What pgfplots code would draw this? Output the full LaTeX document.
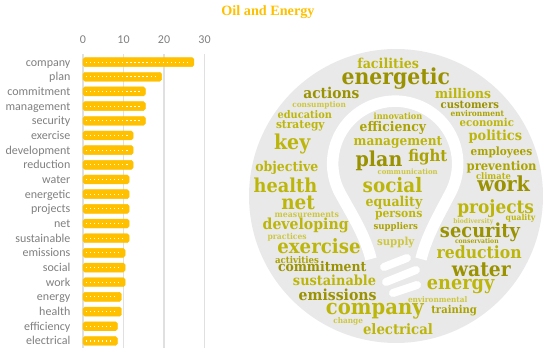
\documentclass[border=0pt]{standalone}
\usepackage{pgfplots}
\usepackage{pgfplotstable}
\usepackage{fontspec}
\pgfplotsset{compat=1.18}
\setmainfont{Carlito}
\newfontfamily\wf{DejaVu Serif}
\newfontfamily\tf{Liberation Serif}
\definecolor{wa}{HTML}{9A9200}
\definecolor{wb}{HTML}{ABA300}
\definecolor{wc}{HTML}{BDB60A}
\definecolor{wd}{HTML}{CDC740}
\definecolor{bar}{HTML}{FFC000}
\definecolor{disc}{HTML}{E9E9E9}
\definecolor{lab}{HTML}{7F7F7F}
\pgfplotstableread{
idx val dots
0 27.4 26.4
1 19.4 18.4
2 15.4 14.4
3 15.4 14.4
4 15.4 14.4
5 12.4 11.4
6 12.4 11.4
7 12.4 11.4
8 11.4 10.4
9 11.4 10.4
10 11.4 10.4
11 11.4 10.4
12 11.4 10.4
13 10.4 9.4
14 10.4 9.4
15 10.4 9.4
16 9.5 8.5
17 9.5 8.5
18 8.5 7.5
19 8.5 7.5
}\freq
\newcommand{\w}[6]{%
  \pgfmathsetmacro{\wcx}{240+(#2+#3)/6}%
  \pgfmathsetmacro{\wcy}{#1+#4/3}%
  \pgfmathsetmacro{\wwd}{(#3-#2)/3}%
  \node[anchor=base,inner sep=0pt,text=#5] at (\wcx,\wcy) {\resizebox{\wwd pt}{!}{\scalebox{1}[1.08]{\wf\bfseries #6}}};}
\begin{document}
\begin{tikzpicture}[x=1pt,y=1pt]
\path[use as bounding box] (0,0) rectangle (550,356);
\begin{scope}[y=-1pt,yshift=356pt]
\fill[disc] (396,196) circle[radius=147];
\draw[white,line width=11.5pt] (371,259) .. controls (365,235) and (352,215) .. (340,193)
  arc[start angle=152,end angle=388,radius=62.5]
  .. controls (439,215) and (427,235) .. (421,259);
\draw[white,line width=8pt,line cap=round] (384,267)--(407,258);
\draw[white,line width=8pt,line cap=round] (386,282)--(416,270);
\draw[white,line width=8pt,line cap=round] (393,293)--(417,285);
\node[anchor=base,text=bar,font=\tf\bfseries\fontsize{14.2}{16}\selectfont] at (268,16) {Oil and Energy};
% top half
\w{30}{352}{537}{115}{wc}{facilities}
\w{30}{305}{630}{165}{wa}{energetic}
\w{30}{190}{358}{207}{wa}{actions}
\w{30}{585}{753}{205}{wc}{millions}
\w{30}{157}{318}{232}{wd}{consumption}
\w{30}{602}{777}{236}{wa}{customers}
\w{30}{632}{792}{259}{wb}{environment}
\w{30}{113}{276}{267}{wc}{education}
\w{30}{401}{547}{270}{wc}{innovation}
\w{30}{108}{254}{297}{wc}{strategy}
\w{30}{659}{822}{289}{wc}{economic}
\w{30}{359}{558}{306}{wb}{efficiency}
\w{30}{686}{846}{333}{wc}{politics}
\w{30}{341}{607}{347}{wc}{management}
\w{30}{102}{211}{360}{wc}{key}
\w{30}{505}{622}{395}{wb}{fight}
\w{30}{347}{487}{410}{wa}{plan}
\w{30}{692}{877}{377}{wb}{employees}
\w{30}{46}{235}{425}{wc}{objective}
\w{30}{680}{890}{422}{wb}{prevention}
\w{30}{413}{593}{434}{wd}{communication}
\w{30}{708}{813}{448}{wc}{climate}
\w{30}{41}{232}{488}{wc}{health}
\w{30}{368}{547}{488}{wc}{social}
\w{30}{712}{870}{484}{wa}{work}
% bottom half
\w{190}{377}{547}{50}{wc}{equality}
\w{190}{124}{225}{58}{wc}{net}
\w{190}{652}{882}{72}{wc}{projects}
\w{190}{405}{547}{84}{wc}{persons}
\w{190}{104}{297}{82}{wd}{measurements}
\w{190}{797}{886}{93}{wc}{quality}
\w{190}{68}{326}{120}{wc}{developing}
\w{190}{640}{760}{100}{wd}{biodiversity}
\w{190}{401}{534}{120}{wb}{suppliers}
\w{190}{83}{200}{148}{wd}{practices}
\w{190}{600}{840}{143}{wa}{security}
\w{190}{411}{523}{168}{wd}{supply}
\w{190}{645}{776}{162}{wb}{conservation}
\w{190}{112}{362}{192}{wc}{exercise}
\w{190}{590}{845}{206}{wc}{reduction}
\w{190}{105}{237}{220}{wb}{activities}
\w{190}{114}{379}{246}{wa}{commitment}
\w{190}{636}{812}{260}{wa}{water}
\w{190}{159}{408}{287}{wc}{sustainable}
\w{190}{561}{763}{300}{wc}{energy}
\w{190}{176}{410}{331}{wa}{emissions}
\w{190}{504}{682}{338}{wd}{environmental}
\w{190}{258}{551}{374}{wc}{company}
\w{190}{574}{711}{370}{wb}{training}
\w{190}{280}{369}{402}{wd}{change}
\w{190}{369}{579}{434}{wc}{electrical}
\end{scope}
\begin{axis}[
  at={(83pt,8pt)},anchor=south west,scale only axis,
  width=121.5pt,height=294pt,
  xmin=0,xmax=30,ymin=-0.55,ymax=19.48,y dir=reverse,
  axis x line=top,axis y line=left,
  axis line style={draw=none},
  tick style={draw=none},
  xtick={0,10,20,30},
  ytick={0,...,19},
  yticklabels={company,plan,commitment,management,security,exercise,development,reduction,water,energetic,projects,net,sustainable,emissions,social,work,energy,health,efficiency,electrical},
  xmajorgrids,
  grid style={draw=black!12,line width=1.2pt},
  tick label style={text=lab,font=\fontsize{12}{14}\selectfont},
  /pgf/number format/assume math mode=true,
  yticklabel style={xshift=-7pt,yshift=-1pt,text height=8.5pt,text depth=2.5pt},
  xticklabel style={yshift=5pt},
]
\addplot[xbar,bar width=9pt,fill=bar,draw=bar,line width=0.4pt,rounded corners=1.8pt,bar shift=0pt] table[x=val,y=idx] {\freq};
\addplot[xcomb,white,line width=1.1pt,dash pattern=on 1.3pt off 2.75pt,dash phase=1.3pt] table[x=dots,y=idx] {\freq};
\end{axis}
\end{tikzpicture}
\end{document}
